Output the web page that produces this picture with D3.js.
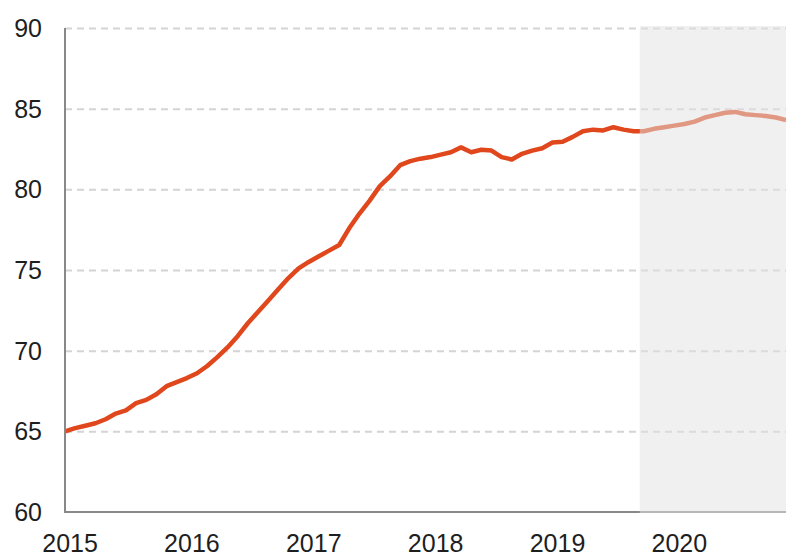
<!DOCTYPE html>
<html>
<head>
<meta charset="utf-8">
<script src="https://cdn.jsdelivr.net/npm/d3@7"></script>
<style>
  html, body { margin: 0; padding: 0; background: #fff; }
  svg { display: block; }
  text { font-family: "Liberation Sans", Arial, sans-serif; }
</style>
</head>
<body>
<svg id="chart" width="786" height="556"></svg>
<script>
// ---- data ----
const years = [2015, 2016, 2017, 2018, 2019, 2020];
const yTicks = [60, 65, 70, 75, 80, 85, 90];
// monthly values, Jan 2015 .. Dec 2020
const values = [
  65.0, 65.2, 65.35, 65.5, 65.75, 66.1, 66.3, 66.75, 66.95, 67.3, 67.8, 68.05,
  68.3, 68.6, 69.05, 69.6, 70.2, 70.9, 71.7, 72.4, 73.1, 73.8, 74.5, 75.1,
  75.5, 75.85, 76.2, 76.55, 77.6, 78.5, 79.3, 80.2, 80.8, 81.5, 81.75, 81.9,
  82.0, 82.15, 82.3, 82.6, 82.3, 82.45, 82.4, 82.0, 81.85, 82.2, 82.4, 82.55,
  82.9, 82.95, 83.25, 83.6, 83.7, 83.65, 83.85, 83.7, 83.6, 83.6, 83.75, 83.85,
  83.95, 84.05, 84.2, 84.45, 84.6, 84.75, 84.8, 84.65, 84.6, 84.55, 84.45, 84.3
];
const forecastStart = 56.6; // month index where the shaded forecast period begins

// ---- layout ----
const svg = d3.select("#chart");
const mLeft = 65, mRight = 786, mTop = 28, mBottom = 512;

const x = d3.scaleLinear().domain([0, values.length - 1]).range([mLeft, mRight]);
const y = d3.scaleLinear().domain([60, 90]).range([mBottom, mTop]);

// gridlines
svg.append("g")
  .attr("transform", `translate(${mLeft},0)`)
  .call(d3.axisLeft(y).tickValues(yTicks.filter(v => v > 60)).tickSize(-(mRight - mLeft)).tickFormat(""))
  .call(g => g.select(".domain").remove())
  .call(g => g.selectAll(".tick line")
    .attr("stroke", "#d4d4d4")
    .attr("stroke-width", 2)
    .attr("stroke-dasharray", "7,5"));

// line
const line = d3.line().x((d, i) => x(i)).y(d => y(d)).curve(d3.curveLinear);
svg.append("path")
  .datum(values)
  .attr("fill", "none")
  .attr("stroke", "#E0471C")
  .attr("stroke-width", 4.5)
  .attr("stroke-linejoin", "round")
  .attr("d", line);

// axes lines
svg.append("line")
  .attr("x1", mLeft).attr("x2", mLeft).attr("y1", mTop).attr("y2", mBottom)
  .attr("stroke", "#888").attr("stroke-width", 2);
svg.append("line")
  .attr("x1", mLeft - 1).attr("x2", mRight).attr("y1", mBottom).attr("y2", mBottom)
  .attr("stroke", "#888").attr("stroke-width", 2);

// forecast shading overlay
svg.append("rect")
  .attr("x", x(forecastStart))
  .attr("y", mTop - 2)
  .attr("width", mRight - x(forecastStart))
  .attr("height", mBottom - mTop + 3)
  .attr("fill", "rgb(226,226,226)")
  .attr("fill-opacity", 0.52);

// y tick labels
svg.append("g")
  .selectAll("text")
  .data(yTicks)
  .join("text")
  .attr("x", 42)
  .attr("y", d => y(d))
  .attr("dy", "0.36em")
  .attr("text-anchor", "end")
  .attr("font-size", 25)
  .attr("fill", "#1e1e1e")
  .text(d => d);

// x tick labels
svg.append("g")
  .selectAll("text")
  .data(years)
  .join("text")
  .attr("x", (d, i) => x(i * 12 + 0.5))
  .attr("y", 552)
  .attr("text-anchor", "middle")
  .attr("font-size", 25)
  .attr("fill", "#1e1e1e")
  .text(d => d);
</script>
</body>
</html>
